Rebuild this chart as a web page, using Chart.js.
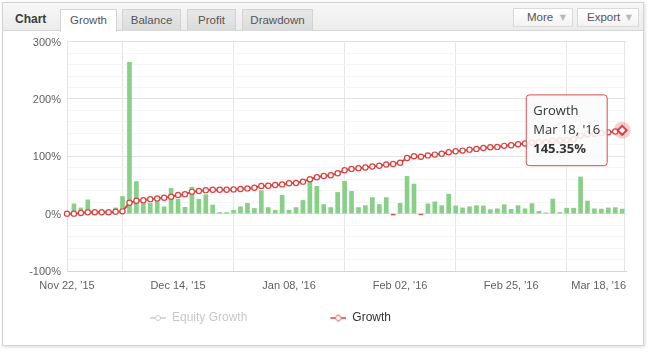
<!DOCTYPE html>
<html><head><meta charset="utf-8">
<script src="https://cdn.jsdelivr.net/npm/chart.js@4.4.1/dist/chart.umd.min.js"></script>
<style>
html,body{margin:0;padding:0;background:#fff;width:649px;height:357px;overflow:hidden;font-family:'Liberation Sans',Arial,sans-serif;}
#frame{position:absolute;left:2px;top:2px;width:642px;height:344px;box-sizing:border-box;border:1px solid #d3d3d3;box-shadow:1px 1px 3px rgba(0,0,0,0.15);background:#fff;}
#hdr{position:absolute;left:3px;top:3px;width:640px;height:28px;box-sizing:border-box;border-bottom:1px solid #d6d6d6;background:linear-gradient(#f7f7f7,#ececec);}
.title{position:absolute;left:15px;top:12px;font-weight:bold;font-size:12px;color:#3c3c3c;line-height:14px;}
.tab{position:absolute;top:9px;height:22px;box-sizing:border-box;border:1px solid #d3d3d3;border-bottom:none;background:linear-gradient(#e8e8e8,#dbdbdb);font-size:11.5px;color:#555;text-align:center;line-height:20px;}
.tab.active{background:#fff;height:23px;}
.btn{position:absolute;top:8px;height:19px;box-sizing:border-box;border:1px solid #dadada;background:linear-gradient(#ffffff,#f3f3f3);font-size:11.5px;color:#555;line-height:17px;}
.btn .t{position:absolute;left:13px;top:0;}
.btn .arr{position:absolute;right:6px;top:0;color:#b8b8b8;font-size:8px;font-family:'DejaVu Sans',sans-serif;}
#wrap{position:absolute;left:0;top:29px;width:649px;height:305px;}
</style>
</head>
<body>
<div id="frame"></div>
<div id="hdr"></div>
<div class="title">Chart</div>
<div class="tab active" style="left:60px;width:57px;">Growth</div>
<div class="tab" style="left:122px;width:59px;">Balance</div>
<div class="tab" style="left:187px;width:49px;">Profit</div>
<div class="tab" style="left:242px;width:71px;">Drawdown</div>
<div class="btn" style="left:513px;width:60px;"><span class="t">More</span><span class="arr">&#9660;</span></div>
<div class="btn" style="left:577px;width:62px;"><span class="t" style="left:9px;">Export</span><span class="arr">&#9660;</span></div>
<div id="wrap"><canvas id="c"></canvas></div>
<script>
// ---- data ----
const tickLabels = ["Nov 22, '15", "Dec 14, '15", "Jan 08, '16", "Feb 02, '16", "Feb 25, '16", "Mar 18, '16"];
const tickIndex = [0, 16, 32, 48, 64, 80];
const yGridValues = [-100, -80, -60, -40, -20, 0, 20, 40, 60, 80, 100, 120, 140, 160, 180, 200, 220, 240, 260, 280, 300];
const yLabelValues = [-100, 0, 100, 200, 300];
const seriesNames = ['Equity Growth', 'Growth'];
const growth = [
  0, 0, 1.2, 2.4, 2.4, 2.4, 2.4, 3.5, 4, 19,
  22.4, 23.5, 25.3, 26.5, 27.6, 29.4, 32.5, 34, 38, 39.5,
  41, 41.7, 41.7, 41.8, 42.3, 43, 44, 45.2, 48.1, 48.7,
  50, 51, 52.9, 53.4, 55.8, 60, 63.5, 65.8, 67, 70.5,
  75.8, 78, 79.3, 80.5, 82.3, 83.5, 85.8, 86.5, 88.7, 97,
  100, 99.3, 101.6, 103, 104.6, 107, 108.7, 109.9, 111.6, 112.9,
  114.6, 115.8, 116.4, 118.2, 119.3, 121, 122.2, 123.8, 124.3, 124.5,
  127.3, 127.5, 128.6, 129.8, 136, 138.3, 139.4, 140.5, 141.8, 143.3,
  145.35
];
const dailyGain = [
  0, 17, 10, 24, 0, 0, 0, 10, 30, 264,
  56, 22, 18, 21, 12, 44, 25, 11, 46, 25,
  33, 15, 2, 2, 6, 12, 18, 9, 40, 10.6,
  6, 32, 6, 10.6, 23, 56, 47.6, 16, 10.6, 37,
  56.4, 38.8, 10.6, 14, 28, 16, 28, -2.5, 18, 65,
  51.7, -2, 17, 20.5, 14, 34, 13.5, 10, 12, 14,
  13.5, 7, 8.5, 15.5, 7.5, 14, 8.5, 17.5, 4, 1.5,
  25.5, 2, 9.5, 9.5, 64, 22, 8.5, 8, 10, 10.5,
  8
];

// ---- chart ----
Chart.defaults.font.family = "'Liberation Sans', Arial, sans-serif";
Chart.defaults.font.size = 11;
Chart.defaults.color = '#606060';

const lastIdx = growth.length - 1;
const xMax = lastIdx + 0.55;
const RED = '#db4040';
const LEG_W = 89;

function legendSymbol(color, marker, W) {
  const c = document.createElement('canvas');
  c.width = W; c.height = 10;
  const g = c.getContext('2d');
  g.strokeStyle = color; g.lineWidth = 1.5;
  g.beginPath(); g.moveTo(W - 16, 5); g.lineTo(W, 5); g.stroke();
  g.fillStyle = '#fff'; g.lineWidth = 1;
  g.beginPath();
  if (marker === 'circle') g.arc(W - 8, 5, 2.5, 0, Math.PI * 2);
  else { g.moveTo(W - 8, 1.5); g.lineTo(W - 4.5, 5); g.lineTo(W - 8, 8.5); g.lineTo(W - 11.5, 5); g.closePath(); }
  g.fill(); g.stroke();
  return c;
}
const symGray = legendSymbol('#cccccc', 'circle', LEG_W);
const symRed = legendSymbol(RED, 'diamond', LEG_W);

const lastLabelPlugin = {
  id: 'lastLabel',
  beforeDraw(chart) {
    const s = chart.scales.x;
    if (!s || !s.getLabelItems) return;
    const items = s.getLabelItems(chart.chartArea);
    items.forEach(it => {
      if (it.label === tickLabels[tickLabels.length - 1]) {
        it.options.textAlign = 'right';
        it.options.translation[0] = chart.chartArea.right;
      }
    });
  }
};

const chart = new Chart(document.getElementById('c'), {
  type: 'line',
  data: {
    datasets: [
      { label: seriesNames[0], data: [], hidden: true, borderColor: '#ccc' },
      { type: 'bar', label: 'Gain', data: dailyGain.map((v, i) => ({ x: i, y: v })),
        backgroundColor: ctx => (ctx.parsed && ctx.parsed.y < 0) ? '#e35353' : '#88cf88',
        barThickness: 4, order: 3, clip: false },
      { label: 'halo', data: [{ x: lastIdx, y: growth[lastIdx] }], showLine: false,
        pointRadius: 8.5, pointBackgroundColor: 'rgba(219,64,64,0.25)', pointBorderWidth: 0,
        order: 2, clip: false },
      { label: seriesNames[1], data: growth.map((v, i) => ({ x: i, y: v })),
        borderColor: RED, borderWidth: 2, tension: 0,
        pointStyle: ctx => ctx.dataIndex === lastIdx ? 'rectRot' : 'circle',
        pointRadius: ctx => ctx.dataIndex === lastIdx ? 4.5 : 2.6,
        pointBorderWidth: ctx => ctx.dataIndex === lastIdx ? 2 : 1.2,
        pointBackgroundColor: '#fff', pointBorderColor: RED,
        order: 1, clip: false }
    ]
  },
  options: {
    responsive: true, maintainAspectRatio: false, animation: false,
    events: [],
    layout: { padding: { left: 0, right: 23, top: 9, bottom: 0 } },
    scales: {
      x: {
        type: 'linear', min: 0, max: xMax, offset: false,
        afterBuildTicks: s => { s.ticks = tickIndex.concat([xMax]).map(v => ({ value: v })); },
        afterFit: s => { s.height = 31; s.paddingLeft = 0; s.paddingRight = 0; },
        ticks: { autoSkip: false, maxRotation: 0, minRotation: 0, padding: 8, color: '#606060',
          callback: v => { const k = tickIndex.indexOf(v); return k >= 0 ? tickLabels[k] : ''; } },
        grid: { color: '#e6e6e6', drawTicks: false, lineWidth: 1 },
        border: { display: true, color: '#ccd6eb' }
      },
      y: {
        type: 'linear', min: -100, max: 300,
        afterBuildTicks: s => { s.ticks = yGridValues.map(v => ({ value: v })); },
        afterFit: s => { s.width = 67; },
        ticks: { autoSkip: false, padding: 6, labelOffset: 1, color: '#606060',
          callback: v => yLabelValues.includes(v) ? v + '%' : '' },
        grid: { drawTicks: false,
          color: c => (c.tick && yLabelValues.includes(c.tick.value)) ? '#e3e3e3' : '#f5f5f5' },
        border: { display: true, color: '#e3e3e3' }
      }
    },
    plugins: {
      legend: {
        position: 'bottom', fullSize: false, align: 'start',
        labels: {
          usePointStyle: true, pointStyleWidth: LEG_W, padding: 10, boxHeight: 12,
          font: { size: 12 },
          generateLabels: () => [
            { text: seriesNames[0], fontColor: '#c8c8c8', pointStyle: symGray, hidden: false, datasetIndex: 0,
              lineWidth: 0, strokeStyle: 'rgba(0,0,0,0)', fillStyle: 'rgba(0,0,0,0)' },
            { text: seriesNames[1], fontColor: '#333333', pointStyle: symRed, hidden: false, datasetIndex: 3,
              lineWidth: 0, strokeStyle: 'rgba(0,0,0,0)', fillStyle: 'rgba(0,0,0,0)' }
          ]
        }
      },
      tooltip: {
        enabled: true,
        backgroundColor: 'rgba(250,250,250,0.88)', borderColor: '#d84a4a', borderWidth: 1, cornerRadius: 3,
        caretSize: 0, caretPadding: 15, xAlign: 'right', yAlign: 'center', displayColors: false,
        padding: { top: 9, bottom: 9, left: 7, right: 7 },
        titleColor: '#333', bodyColor: '#333',
        titleFont: { family: "'Open Sans', sans-serif", size: 13, weight: 'normal' },
        bodyFont: { family: "'Open Sans', sans-serif", size: 13, weight: 'bold' },
        titleSpacing: 3, titleMarginBottom: 3,
        filter: item => item.datasetIndex === 3,
        callbacks: {
          title: items => {
            const k = tickIndex.indexOf(items[0].dataIndex);
            return [items[0].dataset.label, k >= 0 ? tickLabels[k] : ''];
          },
          label: item => item.parsed.y.toFixed(2) + '%'
        }
      }
    }
  },
  plugins: [lastLabelPlugin]
});

const el = chart.getDatasetMeta(3).data[lastIdx];
chart.tooltip.setActiveElements([{ datasetIndex: 3, index: lastIdx }], { x: el.x, y: el.y });
chart.draw();
</script>
</body></html>
